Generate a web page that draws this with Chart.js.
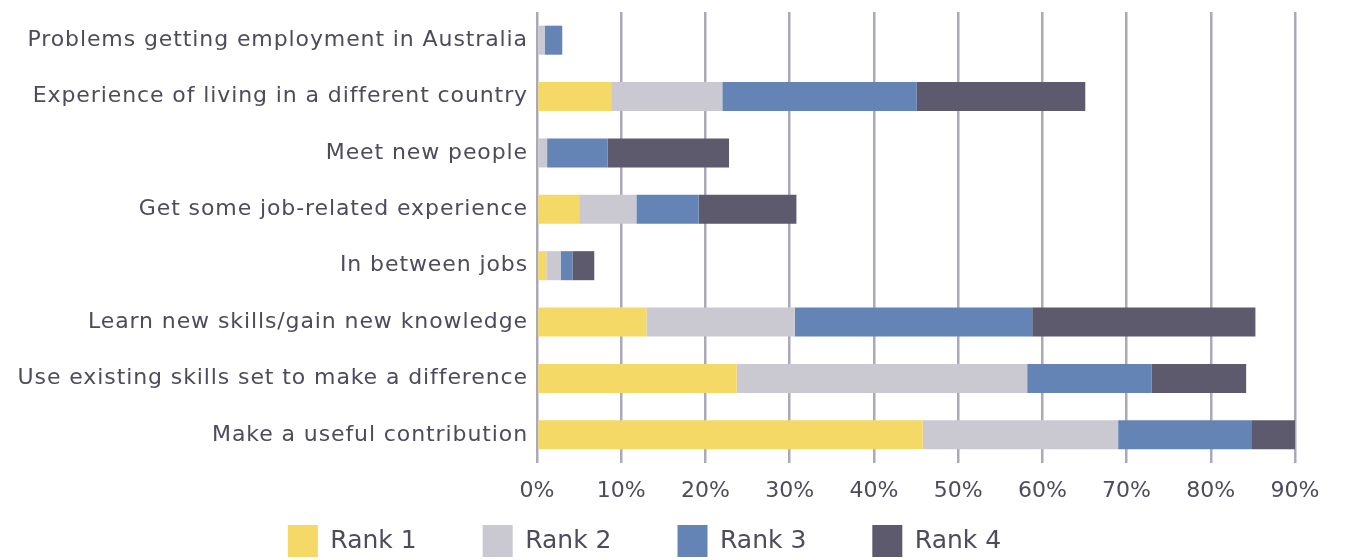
<!DOCTYPE html>
<html>
<head>
<meta charset="utf-8">
<script src="https://cdn.jsdelivr.net/npm/chart.js@4"></script>
<style>
  html, body { margin: 0; padding: 0; background: #ffffff; overflow: hidden; }
  #wrap { width: 1369px; height: 560px; position: relative; }
</style>
</head>
<body>
<div id="wrap"><canvas id="c"></canvas></div>
<script>
const categories = [
  "Problems getting employment in Australia",
  "Experience of living in a different country",
  "Meet new people",
  "Get some job-related experience",
  "In between jobs",
  "Learn new skills/gain new knowledge",
  "Use existing skills set to make a difference",
  "Make a useful contribution"
];
const seriesNames = ["Rank 1", "Rank 2", "Rank 3", "Rank 4"];
const rank1 = [0, 8.8, 0, 5.0, 1.1, 13.0, 23.7, 45.8];
const rank2 = [0.9, 13.2, 1.2, 6.8, 1.7, 17.6, 34.5, 23.2];
const rank3 = [2.1, 23.1, 7.2, 7.4, 1.4, 28.2, 14.8, 15.8];
const rank4 = [0, 20.0, 14.4, 11.6, 2.6, 26.5, 11.2, 5.4];
const xTicks = [0, 10, 20, 30, 40, 50, 60, 70, 80, 90];
const colors = ["#F5D966", "#CAC9D2", "#6384B4", "#5D5A6E"];

const textColor = "#4D4B5C";
const fontFamily = "'DejaVu Sans', 'Noto Sans', sans-serif";

const seriesValues = [rank1, rank2, rank3, rank4];

const legendPlacer = {
  id: "legendPlacer",
  afterLayout(chart) {
    const lg = chart.legend;
    if (lg) {
      const pad = chart.options.plugins.legend.labels.padding;
      lg.top = 525 - pad;
      lg.bottom = chart.height;
      lg.right = lg.right - 6;
    }
    const ys = chart.scales.y;
    if (ys && !ys._spaced) {
      const orig = ys.drawLabels;
      ys.drawLabels = function (area) {
        const ctx = this.ctx;
        const prev = ctx.letterSpacing;
        ctx.letterSpacing = "0.9px";
        orig.call(this, area);
        ctx.letterSpacing = prev;
      };
      ys._spaced = true;
    }
  }
};

new Chart(document.getElementById("c"), {
  type: "bar",
  data: {
    labels: categories,
    datasets: seriesNames.map((name, i) => ({
      label: name,
      data: seriesValues[i],
      backgroundColor: colors[i],
      borderWidth: 0,
      categoryPercentage: 1,
      barPercentage: 0.515
    }))
  },
  options: {
    indexAxis: "y",
    responsive: true,
    maintainAspectRatio: false,
    animation: false,
    layout: { padding: { top: 12, right: 74, left: 0, bottom: 0 } },
    scales: {
      x: {
        stacked: true,
        min: 0,
        max: 90,
        afterBuildTicks: (scale) => { scale.ticks = xTicks.map(v => ({ value: v })); },
        afterFit: (scale) => { scale.height = 46; },
        ticks: {
          callback: (v) => v + "%",
          color: textColor,
          font: { family: fontFamily, size: 22 },
          padding: 15
        },
        grid: { color: "#ABA9B9", lineWidth: 2.5, drawTicks: false },
        border: { display: false }
      },
      y: {
        stacked: true,
        afterFit: (scale) => { scale.width = 537; scale.paddingTop = 0; scale.paddingBottom = 0; },
        ticks: {
          color: textColor,
          font: { family: fontFamily, size: 22 },
          padding: 9
        },
        grid: { display: false, drawTicks: false },
        border: { display: false }
      }
    },
    plugins: {
      tooltip: { enabled: false },
      legend: {
        position: "bottom",
        maxHeight: 51,
        labels: {
          boxWidth: 30,
          boxHeight: 32,
          padding: 66,
          color: textColor,
          font: { family: fontFamily, size: 25 }
        }
      }
    }
  },
  plugins: [legendPlacer]
});
</script>
</body>
</html>
